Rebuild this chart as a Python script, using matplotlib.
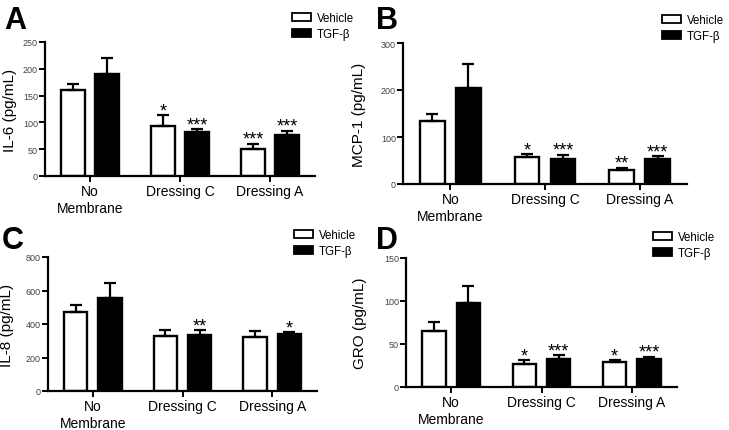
import numpy as np
import matplotlib
matplotlib.use("Agg")
import matplotlib.pyplot as plt
from matplotlib.patches import Patch

plt.rcParams['font.family'] = ['Liberation Sans', 'DejaVu Sans']

groups = ["No\nMembrane", "Dressing C", "Dressing A"]

# IL-6
il6_veh = [161, 93, 51]
il6_veh_err = [10, 20, 9]
il6_tgf = [190, 82, 77]
il6_tgf_err = [31, 5, 7]
il6_veh_sig = ["", "*", "***"]
il6_tgf_sig = ["", "***", "***"]

# MCP-1
mcp_veh = [135, 57, 29]
mcp_veh_err = [14, 6, 6]
mcp_tgf = [205, 53, 53]
mcp_tgf_err = [50, 9, 6]
mcp_veh_sig = ["", "*", "**"]
mcp_tgf_sig = ["", "***", "***"]

# IL-8
il8_veh = [470, 330, 324]
il8_veh_err = [46, 34, 36]
il8_tgf = [554, 334, 340]
il8_tgf_err = [90, 30, 10]
il8_veh_sig = ["", "", ""]
il8_tgf_sig = ["", "**", "*"]

# GRO
gro_veh = [65, 27, 29]
gro_veh_err = [11, 4, 2.4]
gro_tgf = [98, 32, 33]
gro_tgf_err = [19, 5, 2]
gro_veh_sig = ["", "*", "*"]
gro_tgf_sig = ["", "***", "***"]

panels = [
    # letter, ylabel, data..., ymax, ystep, axes rect (px), label x, legend anchor (px), letter (px)
    ("A", "IL-6 (pg/mL)", il6_veh, il6_veh_err, il6_tgf, il6_tgf_err,
     il6_veh_sig, il6_tgf_sig, 250, 50, (45, 43, 315, 177), -0.103, (292, 13), (4, 6)),
    ("B", "MCP-1 (pg/mL)", mcp_veh, mcp_veh_err, mcp_tgf, mcp_tgf_err,
     mcp_veh_sig, mcp_tgf_sig, 300, 100, (403, 44, 687, 185), -0.13, (662, 15), (376, 6)),
    ("C", "IL-8 (pg/mL)", il8_veh, il8_veh_err, il8_tgf, il8_tgf_err,
     il8_veh_sig, il8_tgf_sig, 800, 200, (48, 258, 317, 392), -0.125, (294, 230), (2, 226)),
    ("D", "GRO (pg/mL)", gro_veh, gro_veh_err, gro_tgf, gro_tgf_err,
     gro_veh_sig, gro_tgf_sig, 150, 50, (406, 259, 677, 388), -0.145, (653, 232), (376, 226)),
]

W, H = 729, 431
fig = plt.figure(figsize=(W / 100, H / 100), dpi=100)

x = np.arange(len(groups))
bw = 0.26
off = 0.19

for (letter, ylab, veh, veh_err, tgf, tgf_err, veh_sig, tgf_sig,
     ymax, ystep, rect, labx, leg_xy, let_xy) in panels:
    l, t, r, b = rect
    ax = fig.add_axes([l / W, 1 - b / H, (r - l) / W, (b - t) / H])
    ekw = dict(ecolor='black', elinewidth=1.6, capsize=4.5, capthick=1.6)
    ax.bar(x - off, veh, bw, color='white', edgecolor='black', linewidth=1.7,
           yerr=[np.zeros(3), veh_err], error_kw=ekw, zorder=2, label="Vehicle")
    ax.bar(x + off, tgf, bw, color='black', edgecolor='black', linewidth=1.7,
           yerr=[np.zeros(3), tgf_err], error_kw=ekw, zorder=2, label="TGF-β")
    for i in range(3):
        for xp, v, e, s in ((x[i] - off, veh[i], veh_err[i], veh_sig[i]),
                            (x[i] + off, tgf[i], tgf_err[i], tgf_sig[i])):
            if s:
                ax.annotate(s, (xp, v + e), xytext=(0, 0), textcoords='offset points',
                            ha='center', va='baseline', fontsize=13)
    ax.set_xlim(-0.5, 2.5)
    ax.set_ylim(0, ymax)
    ax.set_yticks(np.arange(0, ymax + 1, ystep))
    ax.set_xticks(x)
    ax.set_xticklabels(groups, fontsize=10)
    for sp in ("top", "right"):
        ax.spines[sp].set_visible(False)
    for sp in ("left", "bottom"):
        ax.spines[sp].set_linewidth(1.6)
    ax.tick_params(axis='y', labelsize=6.5, labelcolor='#444444', length=4, width=1.4, pad=1)
    ax.tick_params(axis='x', length=4, width=1.4, pad=2)
    ax.set_ylabel(ylab, fontsize=11)
    ax.yaxis.set_label_coords(labx, 0.5)
    handles = [Patch(facecolor='white', edgecolor='black', linewidth=1.3, label="Vehicle"),
               Patch(facecolor='black', edgecolor='black', linewidth=1.3, label="TGF-β")]
    ax.legend(handles=handles, loc='upper left', frameon=False, fontsize=8.3,
              bbox_to_anchor=(leg_xy[0] / W, 1 - leg_xy[1] / H), bbox_transform=fig.transFigure,
              handlelength=1.65, handleheight=0.7, labelspacing=0.35, handletextpad=0.5,
              borderpad=0, borderaxespad=0)
    fig.text(let_xy[0] / W, 1 - let_xy[1] / H, letter, fontsize=22, fontweight='bold',
             ha='left', va='top')

fig.savefig("out.png", dpi=100)
